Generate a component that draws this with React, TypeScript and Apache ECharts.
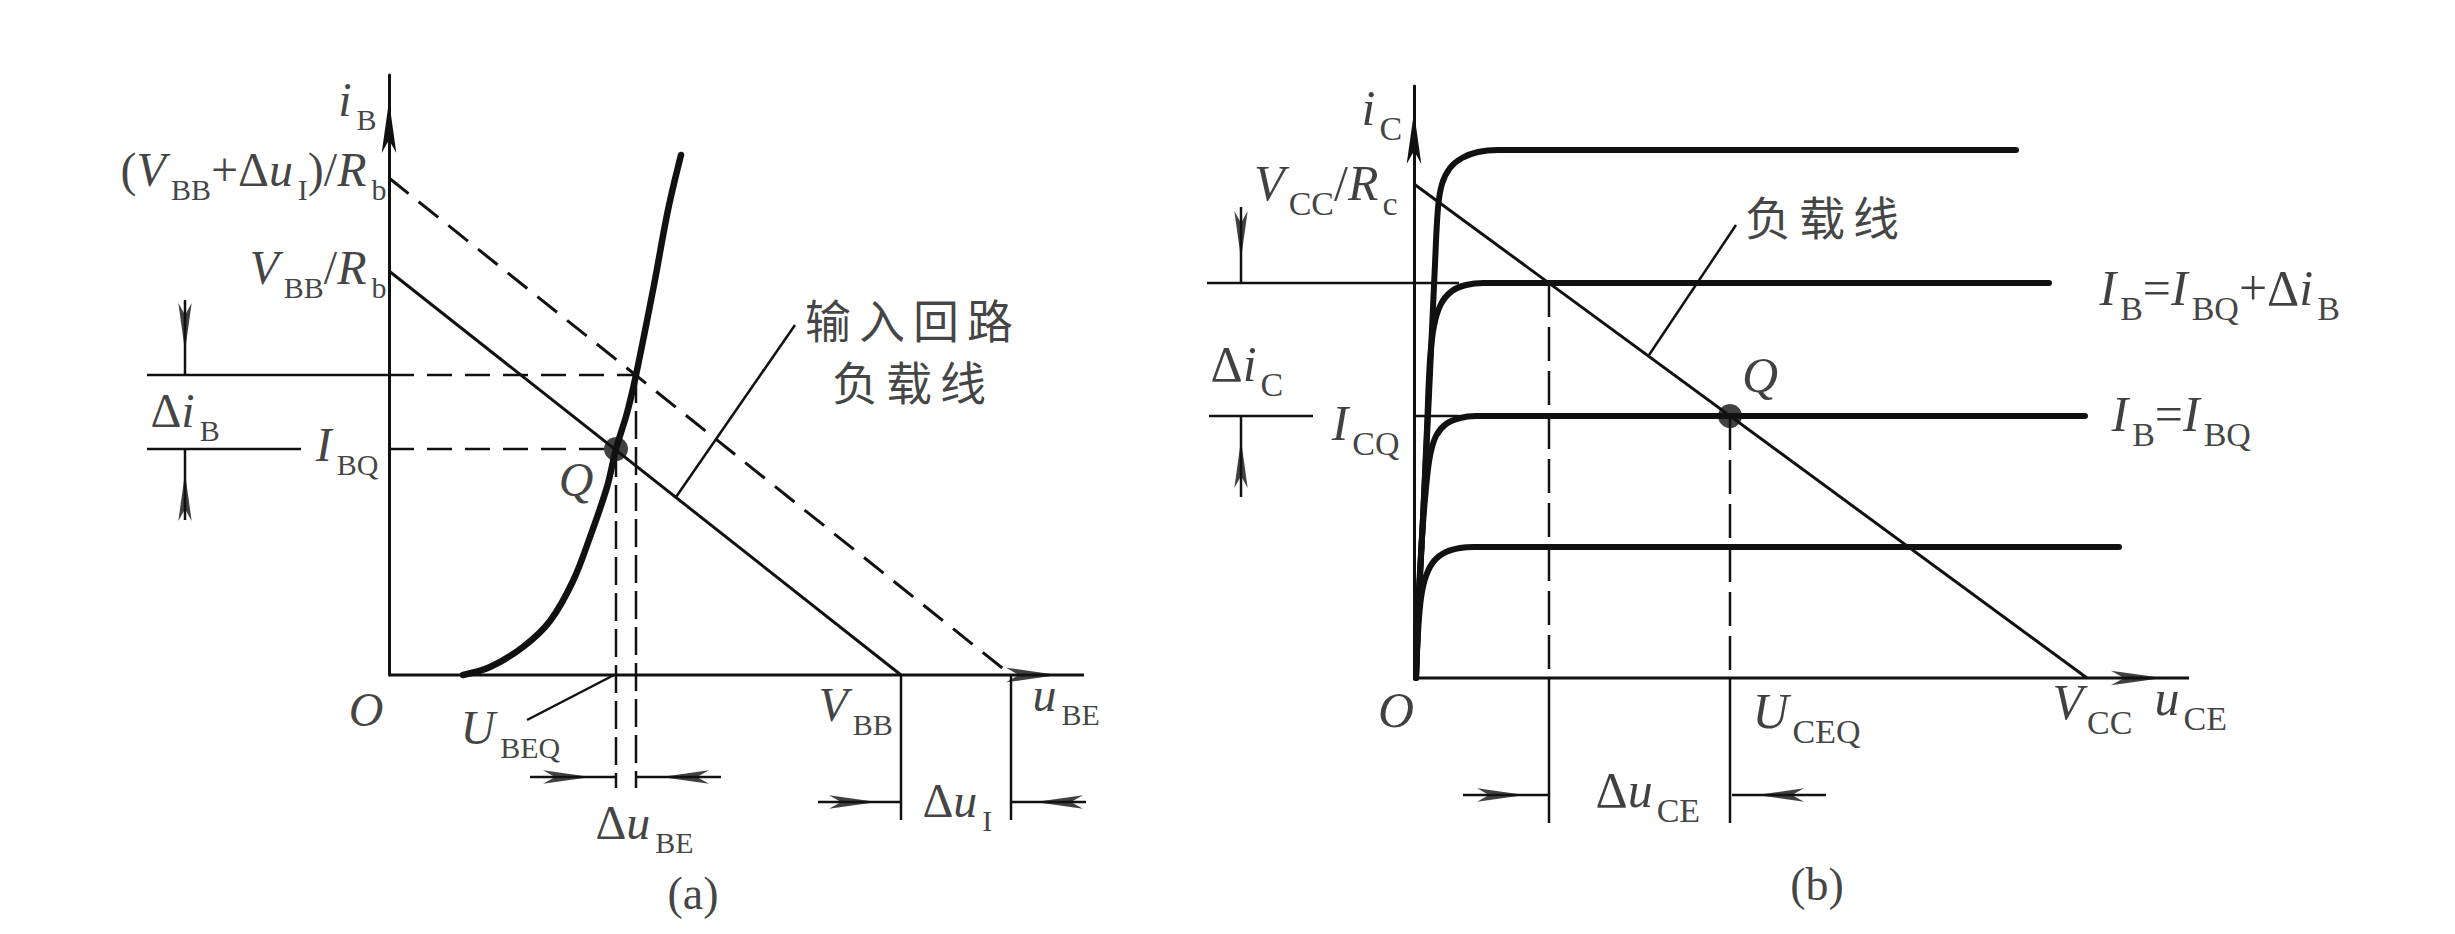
import React, { useEffect, useRef } from "react";
import * as echarts from "echarts";

type P = [number, number];
type Dir = "up" | "down" | "left" | "right";
type Lab = { at: P; pos: "left" | "right" | "inside"; text: string };
type Arrow = { from: P; tip: P; dir: Dir };

const INK = "#111111";
const SERIF = '"Liberation Serif", "DejaVu Serif", serif';
const CJK = '"Noto Sans CJK SC", "Noto Sans CJK JP", sans-serif';

// ================= (a) input loop : u_BE (x) vs i_B (y) =================
const aXMin = -260;
const aAxisEnd: P = [695, 600];
const aInputCurve: P[] = [
  [74, 0], [101, 8], [134, 28], [161, 54], [184, 94], [201, 138], [218, 188],
  [227, 226], [238, 262], [247, 300], [265, 390], [279, 465], [292, 520],
];
const aLoadLine: P[] = [[0, 404], [512, 0]]; // V_BB/R_b -> V_BB
const aLoadLineShifted: P[] = [[0, 497], [622, 0]]; // (V_BB+Δu_I)/R_b -> V_BB+Δu_I
const aQ: P = [227, 226]; // (U_BEQ, I_BQ)
const aShifted: P = [247, 300]; // (U_BEQ+Δu_BE, I_BQ+Δi_B)
const aExtLeft = -242;
const aIbqGap = -88;
const aDropY = -113;
const aTickDropY = -145;
const aLeaders: P[][] = [
  [[138, -45], [225, 0]],
  [[406, 350], [287, 178]],
];
const aArrows: Arrow[] = [
  { from: [-204, 375], tip: [-204, 300], dir: "down" },
  { from: [-204, 155], tip: [-204, 226], dir: "up" },
  { from: [141, -102], tip: [226, -102], dir: "right" },
  { from: [332, -102], tip: [248, -102], dir: "left" },
  { from: [429, -127], tip: [512, -127], dir: "right" },
  { from: [709, -127], tip: [622, -127], dir: "left" },
];
const aLabels: Lab[] = [
  { at: [-12, 576], pos: "left", text: "{ai|i}{as|B}" },
  { at: [-2, 506], pos: "left", text: "{ar|(}{ai|V}{as|BB}{ar|+Δ}{ai|u}{as|I}{ar|)/}{ai|R}{as|b}" },
  { at: [-2, 408], pos: "left", text: "{ai|V}{as|BB}{ar|/}{ai|R}{as|b}" },
  { at: [-239, 265], pos: "right", text: "{ar|Δ}{ai|i}{as|B}" },
  { at: [-10, 231], pos: "left", text: "{ai|I}{as|BQ}" },
  { at: [187, 196], pos: "inside", text: "{ai|Q}" },
  { at: [-23, -34], pos: "inside", text: "{ai|O}" },
  { at: [71, -52], pos: "right", text: "{ai|U}{as|BEQ}" },
  { at: [206, -147], pos: "right", text: "{ar|Δ}{ai|u}{as|BE}" },
  { at: [429, -29], pos: "right", text: "{ai|V}{as|BB}" },
  { at: [643, -19], pos: "right", text: "{ai|u}{as|BE}" },
  { at: [533, -125], pos: "right", text: "{ar|Δ}{ai|u}{as|I}" },
  { at: [304, -218], pos: "inside", text: "{cap|(a)}" },
  { at: [520, 326], pos: "inside", text: "{cn|输}{cn|入}{cn|回}{cn|路}\n{cn|负}{cn|载}{cn|线}" },
];

// ================= (b) output loop : u_CE (x) vs i_C (y) =================
const bXMin = -230;
const bAxisEnd: P = [775, 592];
const bCurveTop: P[] = [
  [2, 0], [3, 51], [9, 160], [16, 305], [21, 414], [24, 470], [28, 494], [36, 510],
  [48, 520], [64, 526], [84, 528], [602, 528],
];
const bCurveIbqPlus: P[] = [
  [2, 0], [5, 80], [9, 160], [13, 250], [16, 318], [20, 352], [27, 374], [38, 387],
  [52, 393], [70, 395], [635, 395],
];
const bCurveIbq: P[] = [
  [2, 0], [5, 80], [8, 140], [12, 190], [16, 222], [22, 242], [32, 254], [46, 260],
  [62, 262], [671, 262],
];
const bCurveLow: P[] = [
  [2, 0], [4, 45], [7, 80], [12, 102], [20, 117], [32, 126], [46, 130], [60, 131], [705, 131],
];
const bLoadLine: P[] = [[0, 494], [673, 0]]; // V_CC/R_c -> V_CC
const bQ: P = [316, 262]; // (U_CEQ, I_CQ)
const bShifted: P = [135, 395]; // intersection with I_B = I_BQ + Δi_B
const bDropY = -145;
const bLeader: P[] = [[322, 453], [235, 323]];
const bArrows: Arrow[] = [
  { from: [-173, 471], tip: [-173, 395], dir: "down" },
  { from: [-173, 181], tip: [-173, 262], dir: "up" },
  { from: [49, -117], tip: [135, -117], dir: "right" },
  { from: [412, -117], tip: [318, -117], dir: "left" },
];
const bLabels: Lab[] = [
  { at: [-53, 570], pos: "right", text: "{bi|i}{bs|C}" },
  { at: [-16, 495], pos: "left", text: "{bi|V}{bs|CC}{br|/}{bi|R}{bs|c}" },
  { at: [-204, 314], pos: "right", text: "{br|Δ}{bi|i}{bs|C}" },
  { at: [-14, 255], pos: "left", text: "{bi|I}{bs|CQ}" },
  { at: [408, 463], pos: "inside", text: "{cn|负}{cn|载}{cn|线}" },
  { at: [346, 303], pos: "inside", text: "{bi|Q}" },
  { at: [685, 390], pos: "right", text: "{bi|I}{bs|B}{br|=}{bi|I}{bs|BQ}{br|+Δ}{bi|i}{bs|B}" },
  { at: [697, 264], pos: "right", text: "{bi|I}{bs|B}{br|=}{bi|I}{bs|BQ}" },
  { at: [-18, -32], pos: "inside", text: "{bi|O}" },
  { at: [338, -33], pos: "right", text: "{bi|U}{bs|CEQ}" },
  { at: [181, -112], pos: "right", text: "{br|Δ}{bi|u}{bs|CE}" },
  { at: [638, -24], pos: "right", text: "{bi|V}{bs|CC}" },
  { at: [740, -20], pos: "right", text: "{bi|u}{bs|CE}" },
  { at: [403, -206], pos: "inside", text: "{cap|(b)}" },
];

// ================= styles & helpers =================
const RICH: any = {
  ai: { fontFamily: SERIF, fontStyle: "italic", fontSize: 48, color: INK, verticalAlign: "middle" },
  ar: { fontFamily: SERIF, fontSize: 48, color: INK, verticalAlign: "middle" },
  as: { fontFamily: SERIF, fontSize: 30, color: INK, padding: [40, 0, 0, 5], verticalAlign: "middle" },
  bi: { fontFamily: SERIF, fontStyle: "italic", fontSize: 50, color: INK, verticalAlign: "middle" },
  br: { fontFamily: SERIF, fontSize: 50, color: INK, verticalAlign: "middle" },
  bs: { fontFamily: SERIF, fontSize: 34, color: INK, padding: [40, 0, 0, 4], verticalAlign: "middle" },
  cn: { fontFamily: CJK, fontSize: 46, color: INK, padding: [0, 4, 0, 4], lineHeight: 62 },
  cap: { fontFamily: SERIF, fontSize: 46, color: INK },
};

const ROT: Record<Dir, number> = { up: 0, down: 180, left: 90, right: -90 };
const HEAD: [number, number] = [10, 48];
const AXIS_HEAD: [number, number] = [11, 52];
const offsetFor = (dir: Dir, len: number): [number, number] => {
  const h = len / 2;
  return dir === "up" ? [0, h] : dir === "down" ? [0, -h] : dir === "left" ? [h, 0] : [-h, 0];
};

function lineSeries(g: number, data: P[], width: number, dash?: number[], smooth = 0, z = 3) {
  return {
    type: "line",
    xAxisIndex: g,
    yAxisIndex: g,
    data,
    symbol: "none",
    showSymbol: false,
    smooth,
    clip: false,
    silent: true,
    z,
    lineStyle: { color: INK, width, type: dash ?? "solid", cap: smooth ? "round" : "butt", join: "round" },
  };
}

function heads(g: number, arrows: Arrow[], size: [number, number]) {
  return {
    type: "scatter",
    xAxisIndex: g,
    yAxisIndex: g,
    clip: false,
    silent: true,
    z: 6,
    symbol: "arrow",
    symbolSize: size,
    itemStyle: { color: INK },
    data: arrows.map((a) => ({ value: a.tip, symbolRotate: ROT[a.dir], symbolOffset: offsetFor(a.dir, size[1]) })),
  };
}

function arrowSeries(g: number, arrows: Arrow[]) {
  return [...arrows.map((a) => lineSeries(g, [a.from, a.tip], 2.5)), heads(g, arrows, HEAD)];
}

// horizontal axis drawn as a series so it starts at the origin
function xAxisSeries(g: number, end: number) {
  const ax: Arrow = { from: [0, 0], tip: [end, 0], dir: "right" };
  return [lineSeries(g, [ax.from, ax.tip], 3, undefined, 0, 2), heads(g, [ax], AXIS_HEAD)];
}

function labelSeries(g: number, labs: Lab[]) {
  return {
    type: "scatter",
    xAxisIndex: g,
    yAxisIndex: g,
    clip: false,
    silent: true,
    z: 10,
    symbol: "circle",
    symbolSize: 1,
    itemStyle: { color: "rgba(0,0,0,0)" },
    data: labs.map((l) => ({
      value: l.at,
      label: {
        show: true,
        position: l.pos,
        distance: 0,
        color: INK,
        formatter: () => l.text,
        rich: RICH,
      },
    })),
  };
}

function dot(g: number, p: P) {
  return {
    type: "scatter",
    xAxisIndex: g,
    yAxisIndex: g,
    clip: false,
    silent: true,
    z: 8,
    symbol: "circle",
    symbolSize: 24,
    itemStyle: { color: INK },
    data: [p],
  };
}

const hiddenAxis = {
  type: "value",
  axisLine: { show: false },
  axisTick: { show: false },
  axisLabel: { show: false },
  splitLine: { show: false },
};
const arrowAxis = {
  type: "value",
  axisLine: {
    show: true,
    onZero: true,
    lineStyle: { color: INK, width: 3 },
    symbol: ["none", "arrow"],
    symbolSize: AXIS_HEAD,
    symbolOffset: [0, -AXIS_HEAD[1] / 2],
  },
  axisTick: { show: false },
  axisLabel: { show: false },
  splitLine: { show: false },
};

const DASH_H = [25, 13];
const DASH_V = [28, 8];
const DASH_VB = [34, 10];

function buildOption(): any {
  const series: any[] = [
    // ---- (a)
    ...xAxisSeries(0, aAxisEnd[0]),
    lineSeries(0, aInputCurve, 6.5, undefined, 0.35, 4),
    lineSeries(0, aLoadLine, 3),
    lineSeries(0, aLoadLineShifted, 3, DASH_H),
    lineSeries(0, [[aExtLeft, aShifted[1]], [0, aShifted[1]]], 2.5),
    lineSeries(0, [[0, aShifted[1]], aShifted], 2.5, DASH_H),
    lineSeries(0, [[aExtLeft, aQ[1]], [aIbqGap, aQ[1]]], 2.5),
    lineSeries(0, [[0, aQ[1]], aQ], 2.5, DASH_H),
    lineSeries(0, [aQ, [aQ[0], aDropY]], 2.5, DASH_V),
    lineSeries(0, [aShifted, [aShifted[0], aDropY]], 2.5, DASH_V),
    lineSeries(0, [aLoadLine[1], [aLoadLine[1][0], aTickDropY]], 2.5),
    lineSeries(0, [aLoadLineShifted[1], [aLoadLineShifted[1][0], aTickDropY]], 2.5),
    ...aLeaders.map((l) => lineSeries(0, l, 2.5)),
    ...arrowSeries(0, aArrows),
    dot(0, aQ),
    labelSeries(0, aLabels),
    // ---- (b)
    ...xAxisSeries(1, bAxisEnd[0]),
    lineSeries(1, bCurveTop, 6, undefined, 0.35, 4),
    lineSeries(1, bCurveIbqPlus, 6, undefined, 0.35, 4),
    lineSeries(1, bCurveIbq, 6, undefined, 0.35, 4),
    lineSeries(1, bCurveLow, 6, undefined, 0.35, 4),
    lineSeries(1, bLoadLine, 3),
    lineSeries(1, [bShifted, [bShifted[0], 0]], 2.5, DASH_VB),
    lineSeries(1, [[bShifted[0], 0], [bShifted[0], bDropY]], 2.5),
    lineSeries(1, [bQ, [bQ[0], 0]], 2.5, DASH_VB),
    lineSeries(1, [[bQ[0], 0], [bQ[0], bDropY]], 2.5),
    lineSeries(1, [[-207, bShifted[1]], [45, bShifted[1]]], 2.5),
    lineSeries(1, [[-205, bQ[1]], [-101, bQ[1]]], 2.5),
    lineSeries(1, [[0, bQ[1]], [45, bQ[1]]], 2.5),
    lineSeries(1, bLeader, 2.5),
    ...arrowSeries(1, bArrows),
    dot(1, bQ),
    labelSeries(1, bLabels),
  ];

  return {
    animation: false,
    backgroundColor: "#ffffff",
    grid: [
      { left: 389 + aXMin, top: 675 - aAxisEnd[1], width: aAxisEnd[0] - aXMin, height: aAxisEnd[1] },
      { left: 1414 + bXMin, top: 678 - bAxisEnd[1], width: bAxisEnd[0] - bXMin, height: bAxisEnd[1] },
    ],
    xAxis: [
      { ...hiddenAxis, gridIndex: 0, min: aXMin, max: aAxisEnd[0] },
      { ...hiddenAxis, gridIndex: 1, min: bXMin, max: bAxisEnd[0] },
    ],
    yAxis: [
      { ...arrowAxis, gridIndex: 0, min: 0, max: aAxisEnd[1] },
      { ...arrowAxis, gridIndex: 1, min: 0, max: bAxisEnd[1] },
    ],
    series,
  };
}

export default function App() {
  const ref = useRef<HTMLDivElement>(null);
  useEffect(() => {
    if (!ref.current) return;
    const chart = echarts.init(ref.current, undefined, { renderer: "svg" });
    chart.setOption(buildOption());
    return () => chart.dispose();
  }, []);
  return (
    <div
      ref={ref}
      style={{ position: "absolute", left: 0, top: 0, width: 2455, height: 934, background: "#fff" }}
    />
  );
}
